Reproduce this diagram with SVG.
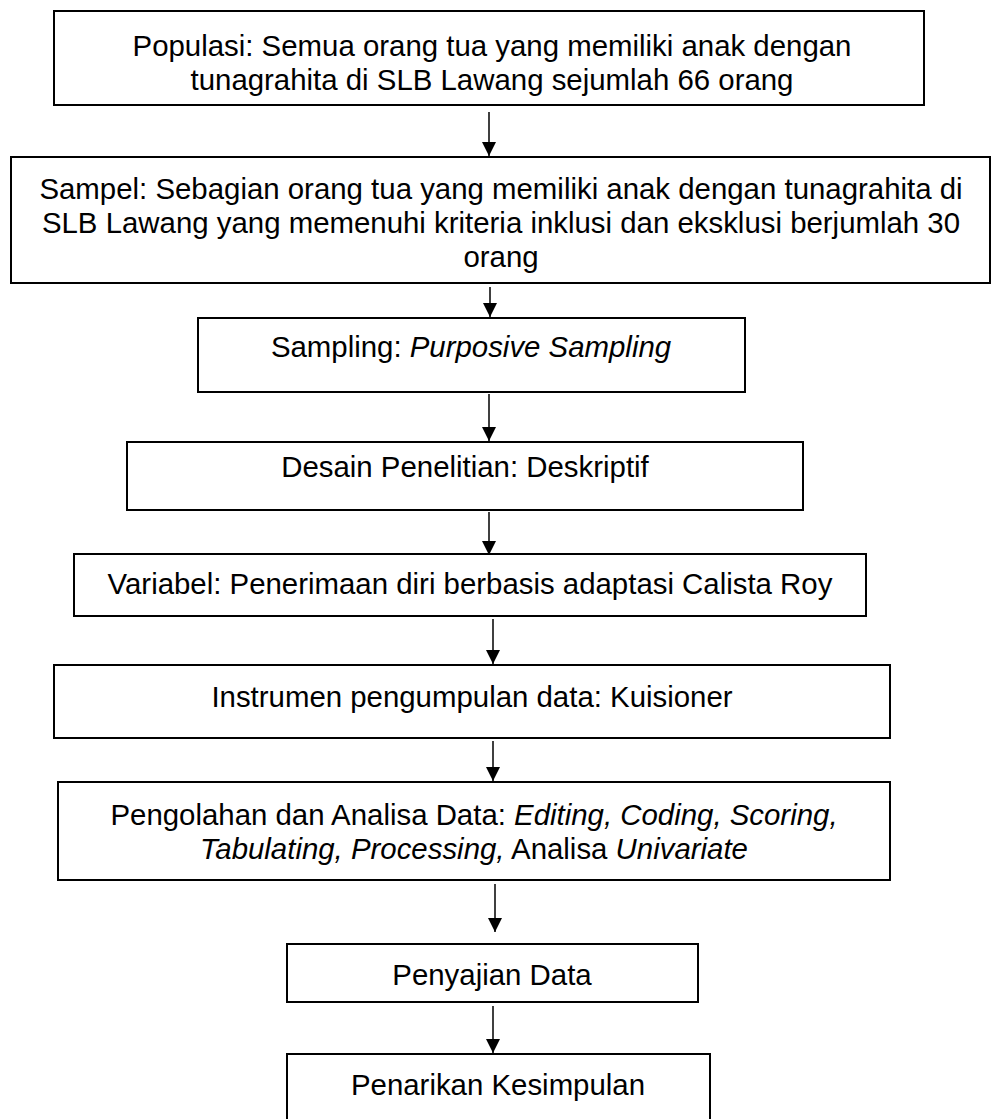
<svg xmlns="http://www.w3.org/2000/svg" width="992" height="1119" viewBox="0 0 992 1119">
<defs>
<style>
.box{fill:#fff;stroke:#000;stroke-width:2}
.t{font-family:"Liberation Sans",Arial,sans-serif;font-size:29.4px;fill:#000;text-anchor:middle}
.i{font-style:italic}
.c{stroke:#000;stroke-width:1.5;fill:none;marker-end:url(#ah)}
</style>
<marker id="ah" markerUnits="userSpaceOnUse" markerWidth="14" markerHeight="14" refX="14" refY="7" orient="auto">
<path d="M0,0 L14,7 L0,14 z" fill="#000"/>
</marker>
</defs>
<rect width="992" height="1119" fill="#fff"/>
<g id="connectors">
<line class="c" x1="489" y1="112" x2="489" y2="156"/>
<line class="c" x1="490" y1="287" x2="490" y2="317"/>
<line class="c" x1="489" y1="394" x2="489" y2="441"/>
<line class="c" x1="489" y1="512" x2="489" y2="555"/>
<line class="c" x1="493" y1="619" x2="493" y2="664"/>
<line class="c" x1="493" y1="741" x2="493" y2="781"/>
<line class="c" x1="495" y1="884" x2="495" y2="932"/>
<line class="c" x1="493" y1="1006" x2="493" y2="1053"/>
</g>
<g id="populasi">
<rect class="box" x="54" y="11" width="870" height="94"/>
<text class="t" x="492" y="56">Populasi: Semua orang tua yang memiliki anak dengan</text>
<text class="t" x="492" y="90">tunagrahita di SLB Lawang sejumlah 66 orang</text>
</g>
<g id="sampel">
<rect class="box" x="11" y="157" width="979" height="126"/>
<text class="t" x="501" y="199">Sampel: Sebagian orang tua yang memiliki anak dengan tunagrahita di</text>
<text class="t" x="501" y="233">SLB Lawang yang memenuhi kriteria inklusi dan eksklusi berjumlah 30</text>
<text class="t" x="501" y="267">orang</text>
</g>
<g id="sampling">
<rect class="box" x="198" y="318" width="547" height="74"/>
<text class="t" x="471" y="357">Sampling: <tspan class="i">Purposive Sampling</tspan></text>
</g>
<g id="desain">
<rect class="box" x="127" y="442" width="676" height="68"/>
<text class="t" x="465" y="477">Desain Penelitian: Deskriptif</text>
</g>
<g id="variabel">
<rect class="box" x="74" y="554" width="792" height="62"/>
<text class="t" x="470" y="594">Variabel: Penerimaan diri berbasis adaptasi Calista Roy</text>
</g>
<g id="instrumen">
<rect class="box" x="54" y="665" width="836" height="73"/>
<text class="t" x="472" y="707">Instrumen pengumpulan data: Kuisioner</text>
</g>
<g id="pengolahan">
<rect class="box" x="58" y="782" width="832" height="98"/>
<text class="t" x="474" y="825">Pengolahan dan Analisa Data: <tspan class="i">Editing, Coding, Scoring,</tspan></text>
<text class="t" x="474" y="859"><tspan class="i">Tabulating, Processing,</tspan> Analisa <tspan class="i">Univariate</tspan></text>
</g>
<g id="penyajian">
<rect class="box" x="287" y="944" width="411" height="58"/>
<text class="t" x="492" y="985">Penyajian Data</text>
</g>
<g id="penarikan">
<rect class="box" x="287" y="1054" width="423" height="80"/>
<text class="t" x="498" y="1095">Penarikan Kesimpulan</text>
</g>
</svg>
